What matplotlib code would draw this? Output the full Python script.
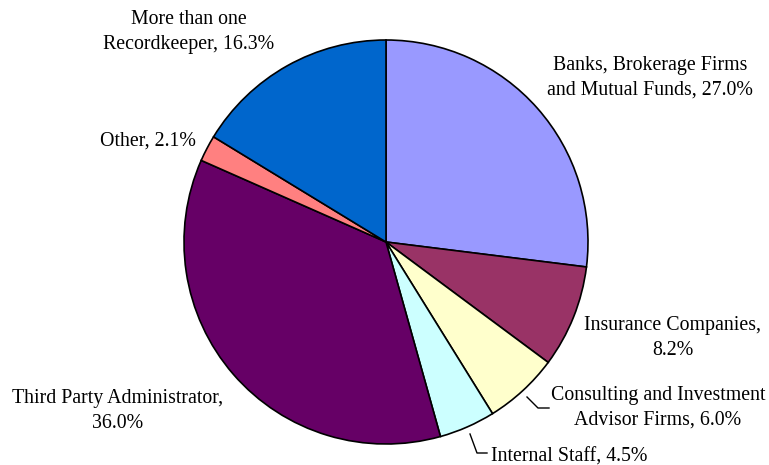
import matplotlib.pyplot as plt

categories = ['Banks, Brokerage Firms\nand Mutual Funds', 'Insurance Companies,\n', 'Consulting and Investment\nAdvisor Firms',
              'Internal Staff', 'Third Party Administrator,\n', 'Other', 'More than one\nRecordkeeper']
values = [27.0, 8.2, 6.0, 4.5, 36.0, 2.1, 16.3]
colors = ['#9999FF', '#993366', '#FFFFCC', '#CCFFFF', '#660066', '#FF8080', '#0066CC']

W, H = 769, 465
fig = plt.figure(figsize=(W / 100, H / 100), dpi=100)
ax = fig.add_axes([0, 0, 1, 1])

# pie in pixel coordinates (y down, so counterclock=True draws clockwise on screen)
ax.pie(values, colors=colors, startangle=-90, counterclock=True, center=(386, 242), radius=202,
       wedgeprops=dict(edgecolor='black', linewidth=1.2), frame=True)
ax.set_xlim(0, W)
ax.set_ylim(H, 0)
ax.axis('off')

font = dict(family='Liberation Serif', fontsize=14.3, ha='center', va='center', linespacing=1.4)

def label(i, x, y):
    name = categories[i]
    if name.endswith('\n'):
        txt = f'{name}{values[i]:.1f}%'
    else:
        txt = f'{name}, {values[i]:.1f}%'
    ax.text(x, y, txt, **font)

label(0, 650, 78)
label(1, 673, 338)
label(2, 658, 408)
label(3, 569, 457)
label(4, 118, 411)
label(5, 148, 141)
label(6, 189, 32)

# leader lines
ax.plot([527, 538, 549], [397, 408, 408], color='black', lw=1, zorder=5)
ax.plot([470, 477, 487], [434, 453, 453], color='black', lw=1, zorder=5)

fig.savefig('out.png', dpi=100)
